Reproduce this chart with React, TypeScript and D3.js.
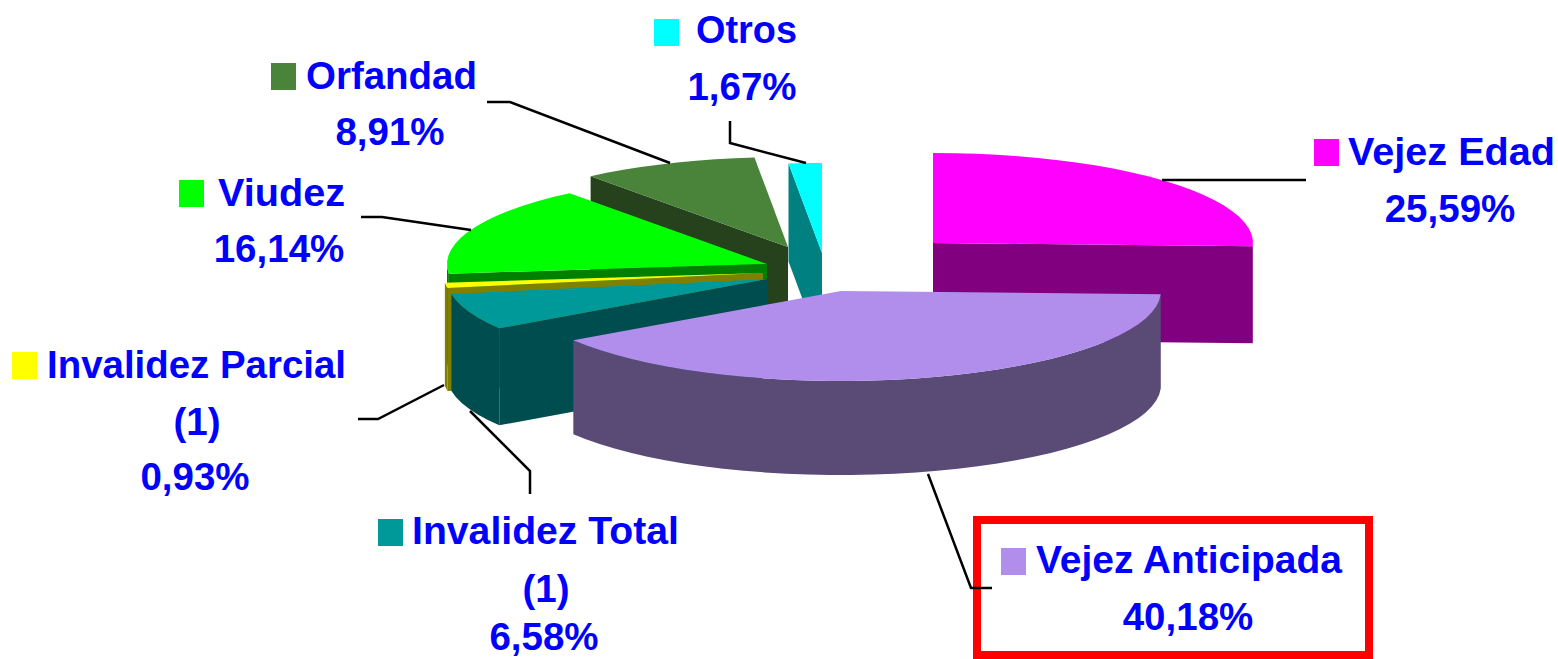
import React from "react";
import * as d3 from "d3";

// ---- data ----
const categories = ["Vejez Edad", "Vejez Anticipada", "Invalidez Total", "Invalidez Parcial", "Viudez", "Orfandad", "Otros"];
const values = [25.59, 40.18, 6.58, 0.93, 16.14, 8.91, 1.67];
const notes = ["", "", "(1)", "(1)", "", "", ""];
const topColors = ["#FF00FF", "#B18EEC", "#009999", "#FFFF00", "#00FF00", "#4A843A", "#00FFFF"];
const sideColors = ["#800080", "#5A4A76", "#004D50", "#808000", "#008000", "#26421C", "#008080"];

// ---- layout (index follows categories) ----
const W = 1558, H = 659;
const RX = 320, RY = 90;
const centers: [number, number][] = [[933, 243], [841, 291], [767, 279], [763, 273], [767, 264], [788, 247], [822, 253]];
const depths = [97, 94, 97, 103, 97, 97, 98];
const paintOrder = [6, 5, 4, 0, 3, 2, 1];
const leaders: [number, number][][] = [
  [[1306, 180], [1162, 180]],
  [[992, 588], [971, 588], [928, 474]],
  [[530, 494], [530, 471], [470, 411]],
  [[358, 419], [378, 419], [444, 385]],
  [[361, 217], [382, 217], [471, 230]],
  [[487, 102], [510, 102], [670, 163]],
  [[730, 121], [730, 143], [806, 163]],
];
// swatch x,y ; title start x, baseline, drawn width ; note / percent centre x and baselines
const swatches: [number, number][] = [[1314, 139], [1001, 548], [378, 519], [12, 352], [179, 180], [271, 63], [654, 19]];
const titles: [number, number, number][] = [[1348, 165, 207], [1036, 573, 306], [412, 544, 267], [47, 378, 299], [218, 206, 127], [306, 89, 171], [696, 43, 101]];
const noteAt: ([number, number] | null)[] = [null, null, [546, 602], [197, 435], null, null, null];
const pctAt: [number, number][] = [[1450, 222], [1188, 630], [544, 650], [195, 490], [279, 262], [390, 145], [742, 100]];
const FONT = "'Liberation Sans', Arial, sans-serif";
const FS = 38.5;

const pie = d3.pie<number>().sort(null).value((d) => d);
const arcs = pie(values);
const line = d3.line<[number, number]>().x((d) => d[0]).y((d) => d[1]);
const fmt = (v: number) => d3.format(".2f")(v).replace(".", ",") + "%";
const TAU = 2 * Math.PI;
const PI = Math.PI;

function rim(i: number, a: number, dz = 0): [number, number] {
  const [cx, cy] = centers[i];
  return [cx + RX * Math.sin(a), cy - RY * Math.cos(a) + dz];
}
function sweep(a0: number, a1: number): number[] {
  const n = Math.max(1, Math.ceil((a1 - a0) / (TAU / 90)));
  return d3.range(n + 1).map((k) => a0 + ((a1 - a0) * k) / n);
}

function Slice({ i }: { i: number }) {
  const { startAngle: a0, endAngle: a1 } = arcs[i];
  const c = centers[i];
  const d = depths[i];
  const paths: React.ReactNode[] = [];
  const face = (a: number, key: string) => {
    const pts: [number, number][] = [c, rim(i, a), rim(i, a, d), [c[0], c[1] + d]];
    paths.push(<path key={key} d={line(pts) + "Z"} fill={sideColors[i]} />);
  };
  if (a0 > PI) face(a0, "f0");
  if (a1 < PI) face(a1, "f1");
  const w0 = Math.max(a0, PI / 2);
  const w1 = Math.min(a1, (3 * PI) / 2);
  if (w1 > w0) {
    const s = sweep(w0, w1);
    const pts = [...s.map((a) => rim(i, a)), ...[...s].reverse().map((a) => rim(i, a, d))];
    paths.push(<path key="w" d={line(pts) + "Z"} fill={sideColors[i]} />);
  }
  const top: [number, number][] = [c, ...sweep(a0, a1).map((a) => rim(i, a))];
  paths.push(<path key="t" d={line(top) + "Z"} fill={topColors[i]} />);
  return <g>{paths}</g>;
}

export default function App() {
  const textProps = { fontFamily: FONT, fontSize: FS, fontWeight: 700, fill: "#0000FF" };
  return (
    <svg width={W} height={H} viewBox={`0 0 ${W} ${H}`} style={{ position: "absolute", left: 0, top: 0, display: "block", background: "#fff" }}>
      {paintOrder.map((i) => <Slice key={i} i={i} />)}
      <rect x={977} y={520} width={392} height={135} fill="none" stroke="#FF0000" strokeWidth={8} />
      {leaders.map((l, i) => (
        <path key={i} d={line(l) as string} fill="none" stroke="#000" strokeWidth={2.5} />
      ))}
      {categories.map((cat, i) => (
        <g key={cat}>
          <rect x={swatches[i][0]} y={swatches[i][1]} width={25} height={27} fill={topColors[i]} />
          <text x={titles[i][0]} y={titles[i][1]} {...textProps} textLength={titles[i][2]} lengthAdjust="spacingAndGlyphs">{cat}</text>
          {notes[i] && noteAt[i] ? (
            <text x={noteAt[i]![0]} y={noteAt[i]![1]} textAnchor="middle" {...textProps}>{notes[i]}</text>
          ) : null}
          <text x={pctAt[i][0]} y={pctAt[i][1]} textAnchor="middle" {...textProps}>{fmt(values[i])}</text>
        </g>
      ))}
    </svg>
  );
}
